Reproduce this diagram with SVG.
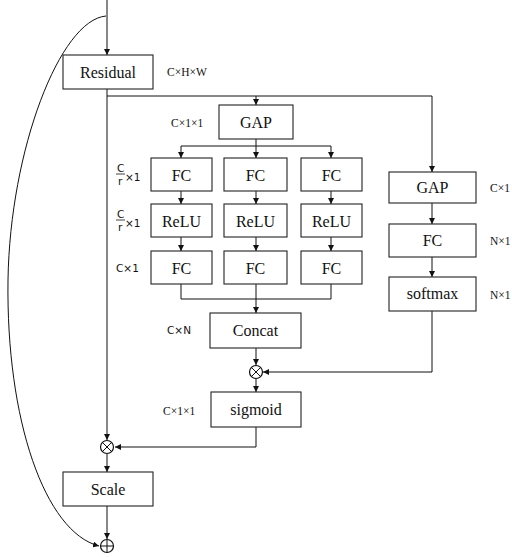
<svg xmlns="http://www.w3.org/2000/svg" width="512" height="557" viewBox="0 0 512 557">
<defs>
<marker id="ah" markerWidth="6" markerHeight="6" refX="6" refY="3" orient="auto" markerUnits="userSpaceOnUse">
<path d="M0,0 L6,3 L0,6 Z" fill="#111"/>
</marker>
<style>
rect.b{fill:#fff;stroke:#222;stroke-width:1.1}
.t{font-family:'Liberation Serif','Times New Roman',serif;font-size:16px;fill:#111;text-anchor:middle;dominant-baseline:central}
.l{font-family:'Liberation Serif','Times New Roman',serif;font-size:11.5px;fill:#111;dominant-baseline:central}
.s{font-family:'DejaVu Sans',sans-serif;font-size:10.5px;fill:#111;dominant-baseline:central}
.c{fill:none;stroke:#111;stroke-width:1}
.a{fill:none;stroke:#111;stroke-width:1;marker-end:url(#ah)}
.op{fill:#fff;stroke:#111;stroke-width:1.2}
</style>
</defs>
<g id="connectors">
<path class="a" d="M107,0 V55"/>
<path class="a" d="M107,89 V440"/>
<path class="c" d="M107,96 H432"/>
<path class="a" d="M256,96 V105"/>
<path class="a" d="M432,96 V172"/>
<path class="c" d="M256,139 V146 M181,146 H331"/>
<path class="a" d="M181,146 V158"/>
<path class="a" d="M256,146 V158"/>
<path class="a" d="M331,146 V158"/>
<path class="a" d="M181,191 V204"/>
<path class="a" d="M256,191 V204"/>
<path class="a" d="M331,191 V204"/>
<path class="a" d="M181,237 V251"/>
<path class="a" d="M256,237 V251"/>
<path class="a" d="M331,237 V251"/>
<path class="c" d="M181,284 V299 H331 V284 M256,284 V299"/>
<path class="a" d="M256,299 V313"/>
<path class="a" d="M256,348 V365"/>
<path class="a" d="M432,203 V224"/>
<path class="a" d="M432,257 V277"/>
<path class="a" d="M432,311 V372 H263"/>
<path class="a" d="M256,379 V392"/>
<path class="a" d="M256,427 V447 H115"/>
<path class="a" d="M107,454 V472"/>
<path class="a" d="M107,506 V539"/>
<path class="a" d="M106,16 C60,20 10,150 8,280 C6,420 45,532 99,546"/>
</g>
<g id="residual"><rect class="b" x="63" y="55" width="90" height="34"/><text class="t" x="108" y="72" font-family="Liberation Serif, serif">Residual</text></g>
<text class="l" x="167" y="72">C×H×W</text>
<g id="gap1"><rect class="b" x="219" y="105" width="74" height="34"/><text class="t" x="256" y="122" font-family="Liberation Serif, serif">GAP</text></g>
<text class="l" x="171" y="123">C×1×1</text>
<g id="fc1a"><rect class="b" x="151" y="158" width="61" height="33"/><text class="t" x="181.5" y="175">FC</text></g>
<g id="fc1b"><rect class="b" x="224" y="158" width="63" height="33"/><text class="t" x="255.5" y="175">FC</text></g>
<g id="fc1c"><rect class="b" x="301" y="158" width="61" height="33"/><text class="t" x="331.5" y="175">FC</text></g>
<g id="relua"><rect class="b" x="151" y="204" width="61" height="33"/><text class="t" x="181.5" y="221">ReLU</text></g>
<g id="relub"><rect class="b" x="224" y="204" width="63" height="33"/><text class="t" x="255.5" y="221">ReLU</text></g>
<g id="reluc"><rect class="b" x="301" y="204" width="61" height="33"/><text class="t" x="331.5" y="221">ReLU</text></g>
<g id="fc2a"><rect class="b" x="151" y="251" width="61" height="33"/><text class="t" x="181.5" y="268">FC</text></g>
<g id="fc2b"><rect class="b" x="224" y="251" width="63" height="33"/><text class="t" x="255.5" y="268">FC</text></g>
<g id="fc2c"><rect class="b" x="301" y="251" width="61" height="33"/><text class="t" x="331.5" y="268">FC</text></g>
<g id="lab-fc1"><text class="s" x="117" y="168" font-size="9.5">C</text><line x1="116" y1="174" x2="125" y2="174" stroke="#111" stroke-width="0.8"/><text class="s" x="118" y="181" font-size="9.5">r</text><text class="s" x="125" y="177">×1</text></g>
<g id="lab-relu"><text class="s" x="117" y="214" font-size="9.5">C</text><line x1="116" y1="220" x2="125" y2="220" stroke="#111" stroke-width="0.8"/><text class="s" x="118" y="227" font-size="9.5">r</text><text class="s" x="125" y="223">×1</text></g>
<text class="s" x="116" y="268">C×1</text>
<g id="concat"><rect class="b" x="210" y="313" width="91" height="35"/><text class="t" x="255.5" y="330">Concat</text></g>
<text class="s" x="167" y="330">C×N</text>
<g id="mul1"><circle class="op" cx="256" cy="372" r="6.5"/><path class="c" d="M251.4,367.4 L260.6,376.6 M260.6,367.4 L251.4,376.6"/></g>
<g id="sigmoid"><rect class="b" x="211" y="392" width="90" height="35"/><text class="t" x="256" y="409">sigmoid</text></g>
<text class="l" x="163" y="411">C×1×1</text>
<g id="gap2"><rect class="b" x="389" y="172" width="87" height="31"/><text class="t" x="432.5" y="187">GAP</text></g>
<text class="l" x="490" y="188">C×1</text>
<g id="fc3"><rect class="b" x="389" y="224" width="87" height="33"/><text class="t" x="432.5" y="240">FC</text></g>
<text class="l" x="490" y="241">N×1</text>
<g id="softmax"><rect class="b" x="389" y="277" width="87" height="34"/><text class="t" x="432.5" y="293">softmax</text></g>
<text class="l" x="490" y="295">N×1</text>
<g id="mul2"><circle class="op" cx="107" cy="447" r="6.5"/><path class="c" d="M102.4,442.4 L111.6,451.6 M111.6,442.4 L102.4,451.6"/></g>
<g id="scale"><rect class="b" x="63" y="472" width="90" height="34"/><text class="t" x="108" y="489">Scale</text></g>
<g id="add"><circle class="op" cx="107" cy="546" r="6.5"/><path class="c" d="M107,539.5 V552.5 M100.5,546 H113.5"/></g>
</svg>
